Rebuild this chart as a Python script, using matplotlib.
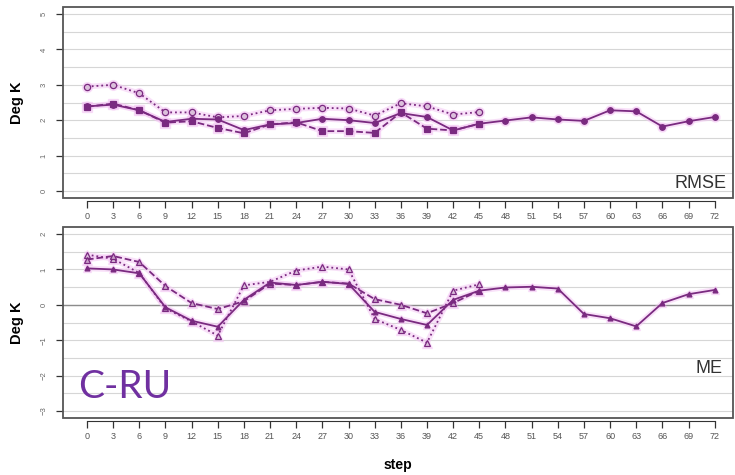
import numpy as np
import matplotlib.pyplot as plt
from matplotlib.patches import Rectangle

# forecast steps
steps = list(range(0, 73, 3))
steps_short = list(range(0, 46, 3))

# RMSE (Deg K)
rmse_main = [2.39, 2.44, 2.28, 1.95, 2.04, 2.02, 1.72, 1.88, 1.92, 2.04, 2.00, 1.92, 2.20,
             2.09, 1.71, 1.90, 1.99, 2.08, 2.02, 1.98, 2.28, 2.25, 1.82, 1.97, 2.09]
rmse_dot = [2.95, 3.00, 2.76, 2.22, 2.22, 2.08, 2.12, 2.28, 2.32, 2.35, 2.33, 2.13, 2.48,
            2.39, 2.16, 2.23]
rmse_dash = [2.38, 2.47, 2.28, 1.93, 1.97, 1.78, 1.63, 1.88, 1.94, 1.69, 1.69, 1.64, 2.22,
             1.76, 1.71, 1.90]

# ME (Deg K)
me_main = [1.03, 1.00, 0.89, -0.07, -0.45, -0.62, 0.14, 0.63, 0.56, 0.65, 0.59, -0.20, -0.40,
           -0.57, 0.14, 0.40, 0.49, 0.51, 0.46, -0.26, -0.38, -0.61, 0.05, 0.30, 0.42]
me_dash = [1.28, 1.38, 1.21, 0.53, 0.05, -0.12, 0.10, 0.60, 0.56, 0.65, 0.60, 0.16, 0.00,
           -0.24, 0.05, 0.40]
me_dot = [1.42, 1.30, 0.90, -0.10, -0.47, -0.87, 0.55, 0.65, 0.97, 1.08, 1.00, -0.40, -0.71,
          -1.07, 0.40, 0.58]

col = '#7a2a80'
glow = '#f4c4f4'
frame = '#555555'

plt.rcParams['font.family'] = ['Liberation Sans', 'DejaVu Sans']

fig = plt.figure(figsize=(7.35, 4.75), dpi=100)
ax1 = fig.add_axes([63/735, 1-198/475, 670/735, 191/475])
ax2 = fig.add_axes([63/735, 1-418/475, 670/735, 191/475])


def line(ax, x, y, ls, marker, ms, mfc):
    # soft pink glow under each curve
    ax.plot(x, y, ls='-', color=glow, lw=4, alpha=0.5, zorder=2,
            marker=marker, ms=ms + 2.5, mfc=glow, mec=glow)
    ax.plot(x, y, ls=ls, color=col, lw=1.3, zorder=3,
            marker=marker, ms=ms, mfc=mfc, mec=col, mew=0.9)


def style(ax, ylim, yticks, zero=False):
    ax.set_xlim(-2.75, 74.1)
    ax.set_ylim(*ylim)
    for yv in np.arange(ylim[0] + 0.2, ylim[1], 0.5):
        ax.axhline(yv, color='#d6d6d6', lw=0.8, zorder=1)
    if zero:
        ax.axhline(0, color='#8c8c8c', lw=1.0, zorder=1)
    ax.set_xticks(steps)
    ax.set_yticks(yticks)
    ax.tick_params(axis='x', direction='out', length=5, width=0.9, color='#333',
                   labelsize=6.5, labelcolor='#555', pad=3)
    ax.tick_params(axis='y', direction='out', length=5, width=0.9, color='#333',
                   labelsize=5.5, labelcolor='#666', pad=6)
    for t in ax.get_yticklabels():
        t.set_rotation(90)
        t.set_va('center')
    for s in ['top', 'right', 'left']:
        ax.spines[s].set_visible(False)
    ax.spines['bottom'].set_position(('outward', 2))
    ax.spines['bottom'].set_bounds(0, 72)
    ax.spines['bottom'].set_color('#333')
    ax.add_patch(Rectangle((0, 0), 1, 1, transform=ax.transAxes, fill=False,
                           ec=frame, lw=1.3, clip_on=False, zorder=5))
    ax.set_ylabel('Deg K', fontsize=10.5, fontweight='bold', labelpad=12)


style(ax1, (-0.2, 5.2), [0, 1, 2, 3, 4, 5])
line(ax1, steps_short, rmse_dot, ':', 'o', 4.5, '#dcc0dc')
line(ax1, steps_short, rmse_dash, '--', 's', 4.5, col)
line(ax1, steps, rmse_main, '-', 'o', 4, col)
ax1.text(0.99, 0.03, 'RMSE', transform=ax1.transAxes, ha='right', va='bottom',
         fontsize=13, color='#333')

style(ax2, (-3.2, 2.2), [-3, -2, -1, 0, 1, 2], zero=True)
line(ax2, steps_short, me_dot, ':', '^', 5, '#dcc0dc')
line(ax2, steps_short, me_dash, '--', '^', 5, '#c9a0c9')
line(ax2, steps, me_main, '-', '^', 3.5, col)
ax2.text(0.985, 0.215, 'ME', transform=ax2.transAxes, ha='right', va='bottom',
         fontsize=13, color='#333')
ax2.set_xlabel('step', fontsize=10, fontweight='bold', labelpad=12)

fig.text(78/735, 1-398/475, 'C-RU', fontsize=28, color='#7030a0',
         family=['Lato', 'DejaVu Sans'], va='baseline', ha='left')

fig.savefig('out.png', dpi=100)
